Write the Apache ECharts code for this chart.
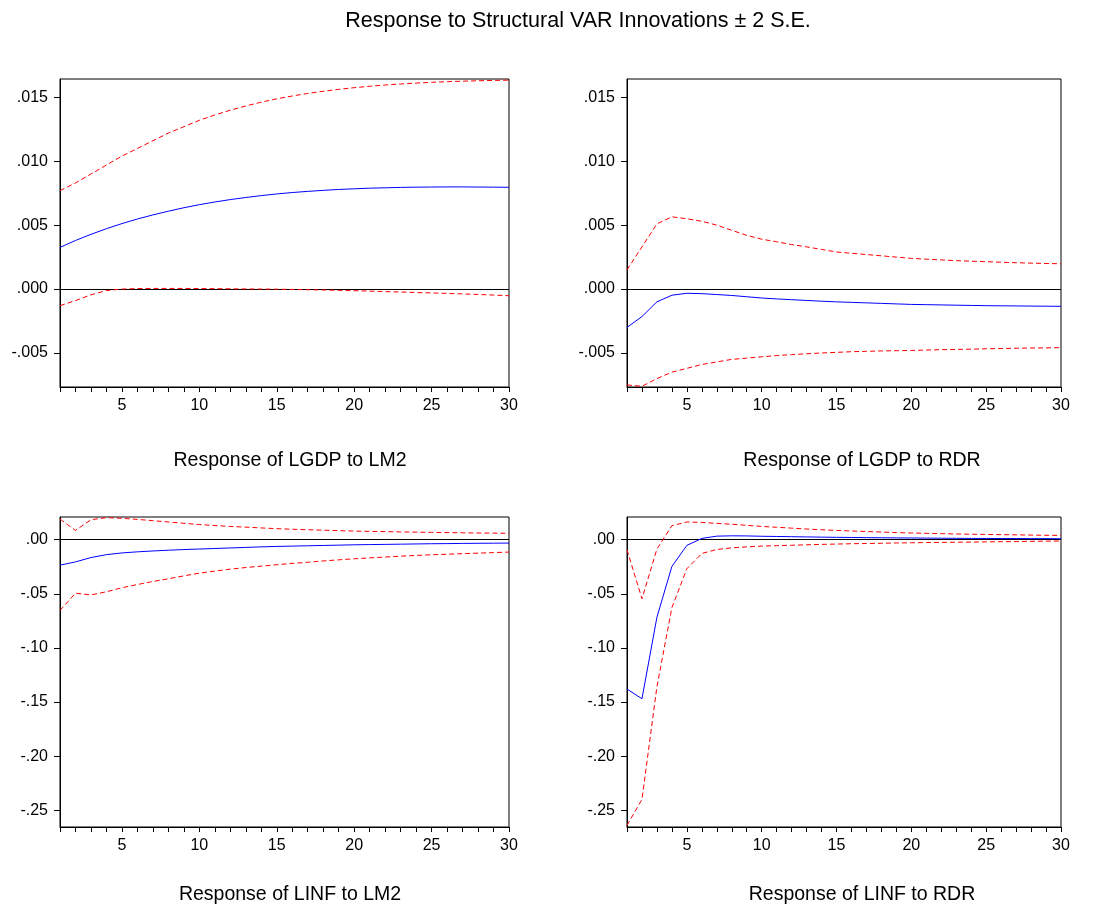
<!DOCTYPE html>
<html>
<head>
<meta charset="utf-8">
<script src="https://cdn.jsdelivr.net/npm/echarts@6/dist/echarts.min.js"></script>
<style>
html,body{margin:0;padding:0;background:#fff;}
#chart{width:1119px;height:908px;}
</style>
</head>
<body>
<div id="chart"></div>
<script>
// ---- data ----
const periods = [1,2,3,4,5,6,7,8,9,10,11,12,13,14,15,16,17,18,19,20,21,22,23,24,25,26,27,28,29,30];
const xLabelTicks = [5,10,15,20,25,30];
const yTicksTop = [-0.005, 0, 0.005, 0.010, 0.015];
const yTicksBottom = [-0.25, -0.20, -0.15, -0.10, -0.05, 0];

const mainTitle = 'Response to Structural VAR Innovations ± 2 S.E.';
const panelTitles = ['Response of LGDP to LM2', 'Response of LGDP to RDR', 'Response of LINF to LM2', 'Response of LINF to RDR'];

// LGDP to LM2
const gdpLm2 = [0.00326,0.0038,0.00428,0.00472,0.00512,0.00548,0.0058,0.00609,0.00636,0.0066,0.00681,0.007,0.00716,0.00731,0.00744,0.00755,0.00764,0.00772,0.00779,0.00784,0.00789,0.00792,0.00795,0.00797,0.00798,0.00799,0.00799,0.00798,0.00797,0.00796];
const gdpLm2Up = [0.0077,0.0083,0.0090,0.0097,0.0104,0.0110,0.0116,0.0122,0.0127,0.0132,0.01362,0.01399,0.01432,0.01462,0.01488,0.0151,0.0153,0.01547,0.01562,0.01575,0.01586,0.01596,0.01604,0.01611,0.01617,0.01622,0.01626,0.01629,0.01632,0.01634];
const gdpLm2Lo = [-0.0013,-0.0009,-0.00045,-0.00012,0.0,0.00004,0.00005,0.00005,0.00005,0.00004,0.00003,0.00002,0.00001,0.0,-0.00001,-0.00003,-0.00005,-0.00007,-0.0001,-0.00013,-0.00016,-0.0002,-0.00023,-0.00027,-0.0003,-0.00034,-0.00038,-0.00042,-0.00047,-0.00052];

// LGDP to RDR
const gdpRdr = [-0.0030,-0.00215,-0.0010,-0.00048,-0.00033,-0.00036,-0.00043,-0.0005,-0.0006,-0.0007,-0.00077,-0.00083,-0.00089,-0.00095,-0.001,-0.00104,-0.00108,-0.00112,-0.00116,-0.0012,-0.00122,-0.00124,-0.00126,-0.00128,-0.0013,-0.00131,-0.00132,-0.00133,-0.00134,-0.00135];
const gdpRdrUp = [0.0015,0.0033,0.0051,0.00565,0.0055,0.0053,0.0050,0.0046,0.0042,0.0039,0.0037,0.00348,0.0033,0.0031,0.0029,0.0028,0.0027,0.0026,0.0025,0.0024,0.00234,0.00228,0.00222,0.00218,0.00214,0.0021,0.00206,0.00203,0.002,0.00198];
const gdpRdrLo = [-0.0075,-0.0076,-0.0070,-0.0065,-0.0062,-0.0059,-0.0057,-0.0055,-0.0054,-0.0053,-0.0052,-0.00513,-0.00506,-0.005,-0.00495,-0.0049,-0.00487,-0.00484,-0.00482,-0.0048,-0.00477,-0.00474,-0.00472,-0.0047,-0.00467,-0.00465,-0.00463,-0.00461,-0.0046,-0.00458];

// LINF to LM2
const infLm2 = [-0.0235,-0.0205,-0.0165,-0.0138,-0.0122,-0.0112,-0.0104,-0.0097,-0.0091,-0.0086,-0.0081,-0.0076,-0.0071,-0.0066,-0.0062,-0.0059,-0.0056,-0.0053,-0.0050,-0.0047,-0.0045,-0.0043,-0.0041,-0.0039,-0.0037,-0.0036,-0.0034,-0.0033,-0.0032,-0.0031];
const infLm2Up = [0.0191,0.0086,0.0185,0.0204,0.0198,0.0188,0.0176,0.0164,0.0152,0.0140,0.0131,0.0123,0.0116,0.0109,0.0102,0.0097,0.0092,0.0088,0.0084,0.0080,0.0077,0.0075,0.0072,0.0070,0.0068,0.0066,0.0064,0.0062,0.0061,0.0059];
const infLm2Lo = [-0.0654,-0.0494,-0.0510,-0.0481,-0.0444,-0.0414,-0.0386,-0.0361,-0.0334,-0.0309,-0.0290,-0.0272,-0.0257,-0.0244,-0.0231,-0.0219,-0.0208,-0.0196,-0.0186,-0.0176,-0.0168,-0.0160,-0.0152,-0.0145,-0.0139,-0.0134,-0.0129,-0.0124,-0.0119,-0.0114];

// LINF to RDR
const infRdr = [-0.138,-0.147,-0.0716,-0.0247,-0.0052,0.0012,0.0033,0.0036,0.0035,0.0032,0.003,0.0028,0.0026,0.0024,0.0022,0.0021,0.0019,0.0018,0.0017,0.0016,0.0015,0.0014,0.0013,0.0012,0.0012,0.0011,0.0011,0.001,0.001,0.0009];
const infRdrUp = [-0.0093,-0.0546,-0.0086,0.0130,0.0164,0.0160,0.0151,0.0143,0.0133,0.0123,0.0115,0.0107,0.0099,0.0092,0.0086,0.0081,0.0076,0.0071,0.0066,0.0062,0.0059,0.0056,0.0053,0.0051,0.0049,0.0047,0.0045,0.0043,0.0041,0.0040];
const infRdrLo = [-0.264,-0.240,-0.1358,-0.0627,-0.0268,-0.0127,-0.0090,-0.0075,-0.0066,-0.0059,-0.0055,-0.0051,-0.0047,-0.0043,-0.0040,-0.0037,-0.0035,-0.0033,-0.0030,-0.0028,-0.0026,-0.0025,-0.0023,-0.0022,-0.0020,-0.0018,-0.0017,-0.0015,-0.0013,-0.0012];

// ---- layout/styles ----
const FONT = '"Liberation Sans", Arial, sans-serif';
const grids = [
  {left: 60, top: 79, width: 449, height: 308},
  {left: 627, top: 79, width: 434, height: 308},
  {left: 60, top: 517, width: 449, height: 310},
  {left: 627, top: 517, width: 434, height: 310}
];
const yRanges = [
  {min: -0.00766, max: 0.01643, ticks: yTicksTop, dec: 3},
  {min: -0.00766, max: 0.01643, ticks: yTicksTop, dec: 3},
  {min: -0.2655, max: 0.021, ticks: yTicksBottom, dec: 2},
  {min: -0.2655, max: 0.021, ticks: yTicksBottom, dec: 2}
];
const panels = [
  [gdpLm2, gdpLm2Up, gdpLm2Lo],
  [gdpRdr, gdpRdrUp, gdpRdrLo],
  [infLm2, infLm2Up, infLm2Lo],
  [infRdr, infRdrUp, infRdrLo]
];

function fmt(v, dec) {
  let s = Number(v).toFixed(dec);
  if (Math.abs(v) < 1e-12) s = (0).toFixed(dec);
  return s.replace('0.', '.');
}
function pairs(arr) { return periods.map((p, i) => [p, arr[i]]); }

const xAxes = [], yAxes = [], series = [];
grids.forEach((g, i) => {
  xAxes.push({
    type: 'value', gridIndex: i, min: 1, max: 30,
    axisLine: {show: true, onZero: false, lineStyle: {color: '#000', width: 1}},
    axisTick: {show: true, length: 5, customValues: periods, lineStyle: {color: '#000'}},
    axisLabel: {customValues: xLabelTicks, margin: 11, color: '#000', fontSize: 16, fontFamily: FONT},
    splitLine: {show: false}
  });
  const yr = yRanges[i];
  yAxes.push({
    type: 'value', gridIndex: i, min: yr.min, max: yr.max,
    axisLine: {show: true, onZero: false, lineStyle: {color: '#000', width: 1}},
    axisTick: {show: true, length: 6, customValues: yr.ticks, lineStyle: {color: '#000'}},
    axisLabel: {customValues: yr.ticks, margin: 12, color: '#000', fontSize: 16, fontFamily: FONT,
      formatter: (v) => fmt(v, yr.dec)},
    splitLine: {show: false}
  });
  const [mid, up, lo] = panels[i];
  series.push({
    type: 'line', xAxisIndex: i, yAxisIndex: i, data: pairs(mid), showSymbol: false, symbol: 'none',
    lineStyle: {color: '#0000ff', width: 1}, z: 3,
    markLine: {silent: true, symbol: ['none', 'none'], label: {show: false},
      lineStyle: {color: '#000', width: 1, type: 'solid'}, data: [{yAxis: 0}], z: 1}
  });
  series.push({
    type: 'line', xAxisIndex: i, yAxisIndex: i, data: pairs(up), showSymbol: false, symbol: 'none',
    lineStyle: {color: '#ff0000', width: 1, type: [5, 3]}, z: 2
  });
  series.push({
    type: 'line', xAxisIndex: i, yAxisIndex: i, data: pairs(lo), showSymbol: false, symbol: 'none',
    lineStyle: {color: '#ff0000', width: 1, type: [5, 3]}, z: 2
  });
});

const textItems = [
  {x: 578, y: 21, text: mainTitle, size: 21.5},
  {x: 290, y: 461, text: panelTitles[0], size: 19.5},
  {x: 862, y: 461, text: panelTitles[1], size: 19.5},
  {x: 290, y: 895, text: panelTitles[2], size: 19.5},
  {x: 862, y: 895, text: panelTitles[3], size: 19.5}
];

const chart = echarts.init(document.getElementById('chart'), null, {renderer: 'canvas'});
chart.setOption({
  animation: false,
  backgroundColor: '#fff',
  grid: grids.map(g => Object.assign({show: true, borderColor: '#000', borderWidth: 1, backgroundColor: 'transparent', containLabel: false}, g)),
  xAxis: xAxes,
  yAxis: yAxes,
  series: series,
  graphic: textItems.map(t => ({
    type: 'text', x: t.x, y: t.y,
    style: {text: t.text, fill: '#000', fontSize: t.size, fontFamily: FONT, align: 'center', verticalAlign: 'middle'}
  }))
});
</script>
</body>
</html>
